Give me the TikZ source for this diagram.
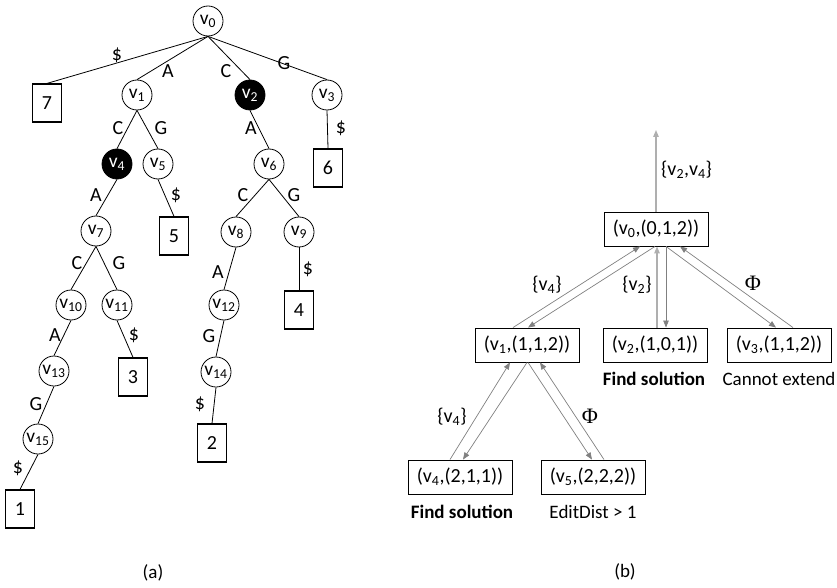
\documentclass[tikz,border=0pt]{standalone}
\usepackage{fontspec}
\setmainfont{Carlito}
\newfontfamily\phifont{Liberation Serif}
\usetikzlibrary{arrows.meta}
\definecolor{arrowgray}{RGB}{128,128,128}
\definecolor{lightline}{RGB}{175,175,175}
\newcommand\vsub[1]{v\textsubscript{#1}}
\newcommand\basefont{\fontsize{19}{22}\selectfont}
\newcommand\treefont{\fontsize{20}{23}\selectfont}

\begin{document}
\basefont
\begin{tikzpicture}[x=1pt,y=-1pt,
  font=\basefont,
  vert/.style={draw, circle, minimum size=30pt, inner sep=0pt, line width=0.8pt, font=\fontsize{19.5}{22}\selectfont},
  marked/.style={vert, fill=black, text=white},
  leaf/.style={draw, rectangle, minimum width=29pt, minimum height=38pt, inner sep=0pt, line width=1.2pt, font=\treefont},
  edge/.style={line width=0.8pt},
  lab/.style={inner sep=0pt, font=\treefont},
  phi/.style={inner sep=0pt, font=\fontsize{22}{24}\phifont},
  state/.style={draw, rectangle, minimum width=104pt, minimum height=34pt, inner sep=0pt, line width=0.9pt, font=\fontsize{20}{23}\selectfont},
  flow/.style={draw=arrowgray, line width=0.7pt, -{Triangle[length=7pt,width=5.5pt]}, arrowgray},
  mainflow/.style={flow, draw=lightline, line width=1.3pt},
  note/.style={inner sep=0pt, font=\basefont},
  strong/.style={inner sep=0pt, font=\basefont\bfseries},
  edgeset/.style={inner sep=0pt, font=\fontsize{20}{23}\selectfont}
]
\useasboundingbox (0,0) rectangle (837,588);

% ---------------- (a) suffix tree ----------------
\node[vert]   (v0)  at (208,21)  {\vsub{0}};
\node[vert]   (v1)  at (137,95)  {\vsub{1}};
\node[marked] (v2)  at (250,95)  {\vsub{2}};
\node[vert]   (v3)  at (327,95)  {\vsub{3}};
\node[marked] (v4)  at (117,164) {\vsub{4}};
\node[vert]   (v5)  at (158,164) {\vsub{5}};
\node[vert]   (v6)  at (269,164) {\vsub{6}};
\node[vert]   (v7)  at (96,231)  {\vsub{7}};
\node[vert]   (v8)  at (236,232) {\vsub{8}};
\node[vert]   (v9)  at (299,232) {\vsub{9}};
\node[vert]   (v10) at (71,305)  {\vsub{10}};
\node[vert]   (v11) at (117,305) {\vsub{11}};
\node[vert]   (v12) at (224,305) {\vsub{12}};
\node[vert]   (v13) at (54,371)  {\vsub{13}};
\node[vert]   (v14) at (216,372) {\vsub{14}};
\node[vert]   (v15) at (38,439)  {\vsub{15}};

\node[leaf] (l7) at (47,103)  {7};
\node[leaf] (l6) at (328,168) {6};
\node[leaf] (l5) at (174,236) {5};
\node[leaf] (l4) at (299,310) {4};
\node[leaf] (l3) at (133,377) {3};
\node[leaf] (l2) at (212,443) {2};
\node[leaf] (l1) at (20,509)  {1};

\draw[edge] (v0.south) -- (l7.north)  node[lab] at (117,55)  {\$};
\draw[edge] (v0.south) -- (v1.north)  node[lab] at (168,71)  {A};
\draw[edge] (v0.south) -- (v2.north)  node[lab] at (226,71)  {C};
\draw[edge] (v0.south) -- (v3.north)  node[lab] at (284,63)  {G};
\draw[edge] (v1.south) -- (v4.north)  node[lab] at (118,128) {C};
\draw[edge] (v1.south) -- (v5.north)  node[lab] at (161,128) {G};
\draw[edge] (v2.south) -- (v6.north)  node[lab] at (251,128) {A};
\draw[edge] (v3.south) -- (l6.north)  node[lab] at (341,128) {\$};
\draw[edge] (v4.south) -- (v7.north)  node[lab] at (96,195)  {A};
\draw[edge] (v5.south) -- (l5.north)  node[lab] at (176,195) {\$};
\draw[edge] (v6.south) -- (v8.north)  node[lab] at (243,195) {C};
\draw[edge] (v6.south) -- (v9.north)  node[lab] at (294,195) {G};
\draw[edge] (v7.south) -- (v10.north) node[lab] at (77,263)  {C};
\draw[edge] (v7.south) -- (v11.north) node[lab] at (119,263) {G};
\draw[edge] (v8.south) -- (v12.north) node[lab] at (218,272) {A};
\draw[edge] (v9.south) -- (l4.north)  node[lab] at (308,269) {\$};
\draw[edge] (v10.south) -- (v13.north) node[lab] at (55,335) {A};
\draw[edge] (v11.south) -- (l3.north)  node[lab] at (134,335) {\$};
\draw[edge] (v12.south) -- (v14.north) node[lab] at (209,336) {G};
\draw[edge] (v13.south) -- (v15.north) node[lab] at (36,404) {G};
\draw[edge] (v14.south) -- (l2.north)  node[lab] at (200,404) {\$};
\draw[edge] (v15.south) -- (l1.north)  node[lab] at (18,468) {\$};

\node[note] (capa) at (153,573) {(a)};

% ---------------- (b) search states ----------------
\node[state] (s0) at (656,229) {(\vsub{0},(0,1,2))};
\node[state] (s1) at (527,345) {(\vsub{1},(1,1,2))};
\node[state] (s2) at (655,345) {(\vsub{2},(1,0,1))};
\node[state] (s3) at (779,345) {(\vsub{3},(1,1,2))};
\node[state] (s4) at (460,477) {(\vsub{4},(2,1,1))};
\node[state] (s5) at (593,477) {(\vsub{5},(2,2,2))};
\coordinate (out) at (656,130);

\node[strong] (n2) at (654,379) {Find solution};
\node[note]   (n3) at (779,379) {Cannot extend};
\node[strong] (n4) at (462,512) {Find solution};
\node[note]   (n5) at (593,512) {EditDist > 1};

% result passed upward from the root
\draw[mainflow] (s0.north) -- (out);
\node[edgeset, anchor=west] (r0) at (661,170) {\{\vsub{2},\vsub{4}\}};

% root <-> first level
\draw[flow] ([xshift=-14pt]s1.north) -- ([xshift=-16pt]s0.south);
\draw[flow] ([xshift=-1pt]s0.south) -- ([xshift=1pt]s1.north);
\draw[mainflow] ([xshift=2pt]s2.north) -- ([xshift=1pt]s0.south);
\draw[flow] ([xshift=10pt]s0.south) -- ([xshift=11pt]s2.north);
\draw[flow] ([xshift=10pt]s0.south) -- ([xshift=-3pt]s3.north);
\draw[flow] ([xshift=14pt]s3.north) -- ([xshift=24pt]s0.south);
\node[edgeset] (r1) at (547,285) {\{\vsub{4}\}};
\node[edgeset] (r2) at (637,285) {\{\vsub{2}\}};
\node[phi]     (r3) at (753,283) {Φ};

% first level <-> second level
\draw[flow] ([xshift=-10pt]s4.north) -- ([xshift=-17pt]s1.south);
\draw[flow] (s1.south) -- ([xshift=3pt]s4.north);
\draw[flow] ([xshift=1pt]s1.south) -- ([xshift=-1pt]s5.north);
\draw[flow] ([xshift=11pt]s5.north) -- ([xshift=13pt]s1.south);
\node[edgeset] (r4) at (452,417) {\{\vsub{4}\}};
\node[phi]     (r5) at (590,416) {Φ};

\node[note] (capb) at (625,572) {(b)};
\end{tikzpicture}
\end{document}
